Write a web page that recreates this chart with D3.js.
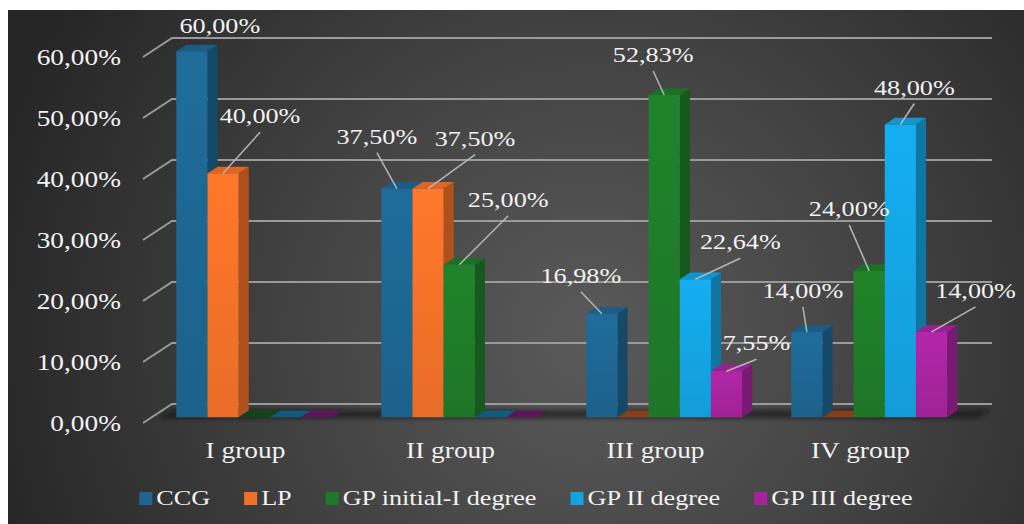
<!DOCTYPE html>
<html>
<head>
<meta charset="utf-8">
<script src="https://cdn.jsdelivr.net/npm/d3@7"></script>
<style>
  html, body { margin: 0; padding: 0; background: #fff; }
  svg { display: block; }
  text { fill: #f2f2f2; }
</style>
</head>
<body>
<div id="chart"></div>
<script>
const groups = ["I group", "II group", "III group", "IV group"];
const seriesNames = ["CCG", "LP", "GP initial-I degree", "GP II degree", "GP III degree"];
const ccg = [60, 37.5, 16.98, 14];
const lp = [40, 37.5, 0, 0];
const gpInitial = [0, 25, 52.83, 24];
const gpII = [0, 0, 22.64, 48];
const gpIII = [0, 0, 7.55, 14];
const yTicks = [0, 10, 20, 30, 40, 50, 60];
const seriesColors = ["#1d6590", "#f07028", "#1e7a28", "#14a2e0", "#a6239d"];

// where each data label sits, relative to its bar top: [dx, dy, leader line?]
const labelShift = [
  [[28, -18, false], [-20, -45, true], [-21, -31, true], [-4, -34, true]],
  [[37, -50, true], [47, -43, true], null, null],
  [null, [49, -58, true], [-11, -33, true], [-20, -55, true]],
  [null, null, [45, -30, true], [14, -30, true]],
  [null, null, [30, -21, true], [44, -34, true]]
];

const seriesValues = [ccg, lp, gpInitial, gpII, gpIII];

const width = 1024;
const height = 524;
const stretch = 1.19;
const serif = "'Liberation Serif', 'Times New Roman', 'DejaVu Serif', serif";
const depth = { dx: 29, dy: -19 };   // full floor depth, front edge -> back wall
const barZ = [0.3, 0.65];          // bar front / back along the depth

const fmt = (v) => d3.format(".2f")(v).replace(".", ",") + "%";

const x = d3.scaleBand().domain(groups).range([143, 963]).paddingInner(0.24).paddingOuter(0.12);
const xs = d3.scaleBand().domain(seriesNames).range([0, x.bandwidth()]);
const y = d3.scaleLinear().domain([0, 60]).range([423, 57]);

function proj(px, v, z) {
  return [px + depth.dx * z, y(v) + depth.dy * z];
}

const svg = d3.select("#chart").append("svg").attr("width", width).attr("height", height);
const defs = svg.append("defs");

const bg = defs.append("radialGradient").attr("id", "bg")
  .attr("gradientUnits", "userSpaceOnUse")
  .attr("cx", 590).attr("cy", 340).attr("r", 620);
bg.append("stop").attr("offset", 0).attr("stop-color", "#5a5a5a");
bg.append("stop").attr("offset", 0.45).attr("stop-color", "#444444");
bg.append("stop").attr("offset", 1).attr("stop-color", "#262626");

svg.append("rect").attr("x", 8).attr("y", 10).attr("width", width - 8).attr("height", height - 10)
  .attr("fill", "url(#bg)");

seriesColors.forEach((c, j) => {
  const g = defs.append("linearGradient").attr("id", "front" + j)
    .attr("x1", 0).attr("y1", 0).attr("x2", 0).attr("y2", 1);
  g.append("stop").attr("offset", 0).attr("stop-color", d3.color(c).brighter(0.2));
  g.append("stop").attr("offset", 1).attr("stop-color", d3.color(c).darker(0.1));
});

const blur = defs.append("filter").attr("id", "soft").attr("x", "-5%").attr("y", "-50%").attr("width", "110%").attr("height", "200%");
blur.append("feGaussianBlur").attr("stdDeviation", 2);

function stretchedText(parent, px, py, str, size, anchor) {
  return parent.append("text")
    .attr("transform", `translate(${px},${py}) scale(${stretch},1)`)
    .attr("text-anchor", anchor)
    .attr("font-family", serif)
    .attr("font-size", size)
    .text(str);
}

// back wall gridlines and the slanted tick lines
const grid = svg.append("g").attr("stroke", "#9a9a9a").attr("stroke-width", 2).attr("fill", "none");
yTicks.forEach((t) => {
  const a = proj(x.range()[0], t, 0);
  const b = proj(x.range()[0], t, 1);
  const c = proj(x.range()[1], t, 1);
  grid.append("path").attr("d", d3.line()([a, b, c]));
});

const axisLabels = svg.append("g");
yTicks.forEach((t) => {
  const a = proj(x.range()[0], t, 0);
  stretchedText(axisLabels, a[0] - 22, a[1] + 8, fmt(t), 23, "end");
});

// floor shadow under the bars
const s0 = proj(x.range()[0] + 8, 0, barZ[0] - 0.05);
const s1 = proj(x.range()[1] + 8, 0, barZ[0] - 0.05);
const s2 = proj(x.range()[1] + 8, 0, barZ[1] + 0.05);
const s3 = proj(x.range()[0] + 8, 0, barZ[1] + 0.05);
svg.append("path").attr("d", d3.line()([s0, s1, s2, s3]) + "Z")
  .attr("fill", "#111").attr("opacity", 0.55).attr("filter", "url(#soft)");

// bars
const bars = svg.append("g");
groups.forEach((grp, i) => {
  seriesNames.forEach((name, j) => {
    const v = seriesValues[j][i];
    const x0 = x(grp) + xs(name);
    const x1 = x0 + xs.bandwidth();
    const col = d3.color(seriesColors[j]);
    const fTL = proj(x0, v, barZ[0]), fTR = proj(x1, v, barZ[0]);
    const fBL = proj(x0, 0, barZ[0]), fBR = proj(x1, 0, barZ[0]);
    const bTL = proj(x0, v, barZ[1]), bTR = proj(x1, v, barZ[1]);
    const bBR = proj(x1, 0, barZ[1]);
    if (v === 0) {
      bars.append("path").attr("d", d3.line()([fTL, fTR, bTR, bTL]) + "Z")
        .attr("fill", col.darker(1.6));
      return;
    }
    bars.append("path").attr("d", d3.line()([fTR, bTR, bBR, fBR]) + "Z")
      .attr("fill", col.darker(0.9));
    bars.append("path").attr("d", d3.line()([fTL, fTR, bTR, bTL]) + "Z")
      .attr("fill", col.darker(0.25));
    bars.append("path").attr("d", d3.line()([fTL, fTR, fBR, fBL]) + "Z")
      .attr("fill", `url(#front${j})`);
  });
});

// data labels with leader lines
const labels = svg.append("g");
groups.forEach((grp, i) => {
  seriesNames.forEach((name, j) => {
    const v = seriesValues[j][i];
    const shift = labelShift[j][i];
    if (!v || !shift) return;
    const top = proj(x(grp) + xs(name) + xs.bandwidth() / 2, v, barZ[0]);
    const lx = top[0] + shift[0];
    const ly = top[1] + shift[1];
    if (shift[2]) {
      labels.append("line")
        .attr("x1", lx).attr("y1", ly + 9).attr("x2", top[0]).attr("y2", top[1])
        .attr("stroke", "#b5b5b5").attr("stroke-width", 1.5);
    }
    stretchedText(labels, lx, ly, fmt(v), 22, "middle");
  });
});

// category labels
const cats = svg.append("g");
groups.forEach((grp) => {
  stretchedText(cats, x(grp) + x.bandwidth() / 2, 458, grp, 23, "middle");
});

// legend
const legend = svg.append("g");
const items = seriesNames.map((name, j) => {
  const g = legend.append("g");
  g.append("rect").attr("width", 13).attr("height", 13).attr("y", -13).attr("fill", seriesColors[j]);
  const t = stretchedText(g, 17, 0, name, 22, "start");
  return { g, w: 17 + t.node().getComputedTextLength() * stretch };
});
const gap = 34;
const total = d3.sum(items, (d) => d.w) + gap * (items.length - 1);
let cx = 526 - total / 2;
items.forEach((d) => {
  d.g.attr("transform", `translate(${cx},505)`);
  cx += d.w + gap;
});
</script>
</body>
</html>
